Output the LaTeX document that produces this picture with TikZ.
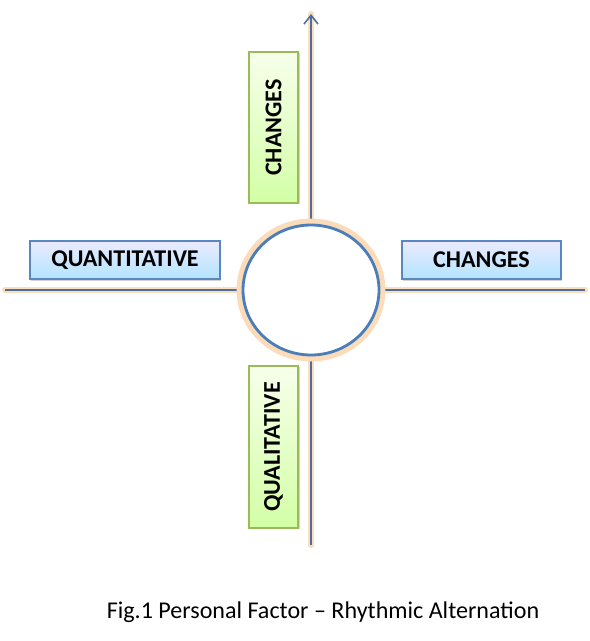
\documentclass[tikz,border=0pt]{standalone}
\usepackage{fontspec}
\setmainfont{Carlito}
\usepackage{xcolor}
\usetikzlibrary{arrows.meta,shapes.geometric,shadows,positioning}

\definecolor{axisblue}{HTML}{4F6E9C}
\definecolor{glow}{HTML}{F9C892}
\definecolor{ringblue}{HTML}{4A7EBB}
\definecolor{boxblue}{HTML}{5A86C2}
\definecolor{boxgreen}{HTML}{9BBB59}

\tikzset{
    glowline/.style={line width=3.5pt, glow!60, line cap=round},
    axisline/.style={line width=0.9pt, axisblue},
    bluebox/.style={draw=boxblue, line width=0.6pt, top color=blue!8, bottom color=blue!35!cyan!30,
        minimum height=0.76cm, font=\fontsize{13.7}{15}\selectfont\bfseries,
        drop shadow={opacity=0.35, shadow xshift=0.6pt, shadow yshift=-0.9pt}},
    greenbox/.style={draw=boxgreen, line width=0.6pt,
        top color=green!40!yellow!8!white, bottom color=green!50!yellow!35,
        minimum height=0.98cm, rotate=90, font=\fontsize{13.7}{15}\selectfont\bfseries,
        drop shadow={opacity=0.35, shadow xshift=0.9pt, shadow yshift=-0.6pt}}
}

\begin{document}
\begin{tikzpicture}[x=0.02cm, y=-0.02cm]
    \useasboundingbox (0,0) rectangle (590,641);

    % Axis end points
    \coordinate (o) at (311,290);
    \coordinate (top) at (311,14);
    \coordinate (bot) at (311,545);
    \coordinate (lft) at (5,290);
    \coordinate (rgt) at (585,290);

    % Axes
    \draw[glowline] (bot) -- (top);
    \draw[glowline] (lft) -- (rgt);
    \draw[axisline, -{Straight Barb[length=5pt,width=8pt]}] (bot) -- (top);
    \draw[axisline] (lft) -- (rgt);

    % Centre ring
    \node[ellipse, draw=glow!65, line width=4.5pt, minimum width=2.82cm, minimum height=2.7cm] at (o) {};
    \node[ellipse, draw=ringblue, fill=white, line width=1.6pt, minimum width=2.72cm, minimum height=2.6cm] (hub) at (o) {};

    % Labels
    \node[bluebox, minimum width=3.8cm] (quant) at (125,260) {QUANTITATIVE};
    \node[bluebox, minimum width=3.18cm] (chgright) at (481.5,260) {CHANGES};
    \node[greenbox, minimum width=3.02cm] (chgtop) at (273.5,127.5) {CHANGES};
    \node[greenbox, minimum width=3.24cm] (qual) at (273.5,447) {QUALITATIVE};

    % Caption
    \node[font=\fontsize{13.7}{16}\selectfont] (caption) at (323,612) {Fig.1 Personal Factor -- Rhythmic Alternation};
\end{tikzpicture}
\end{document}
